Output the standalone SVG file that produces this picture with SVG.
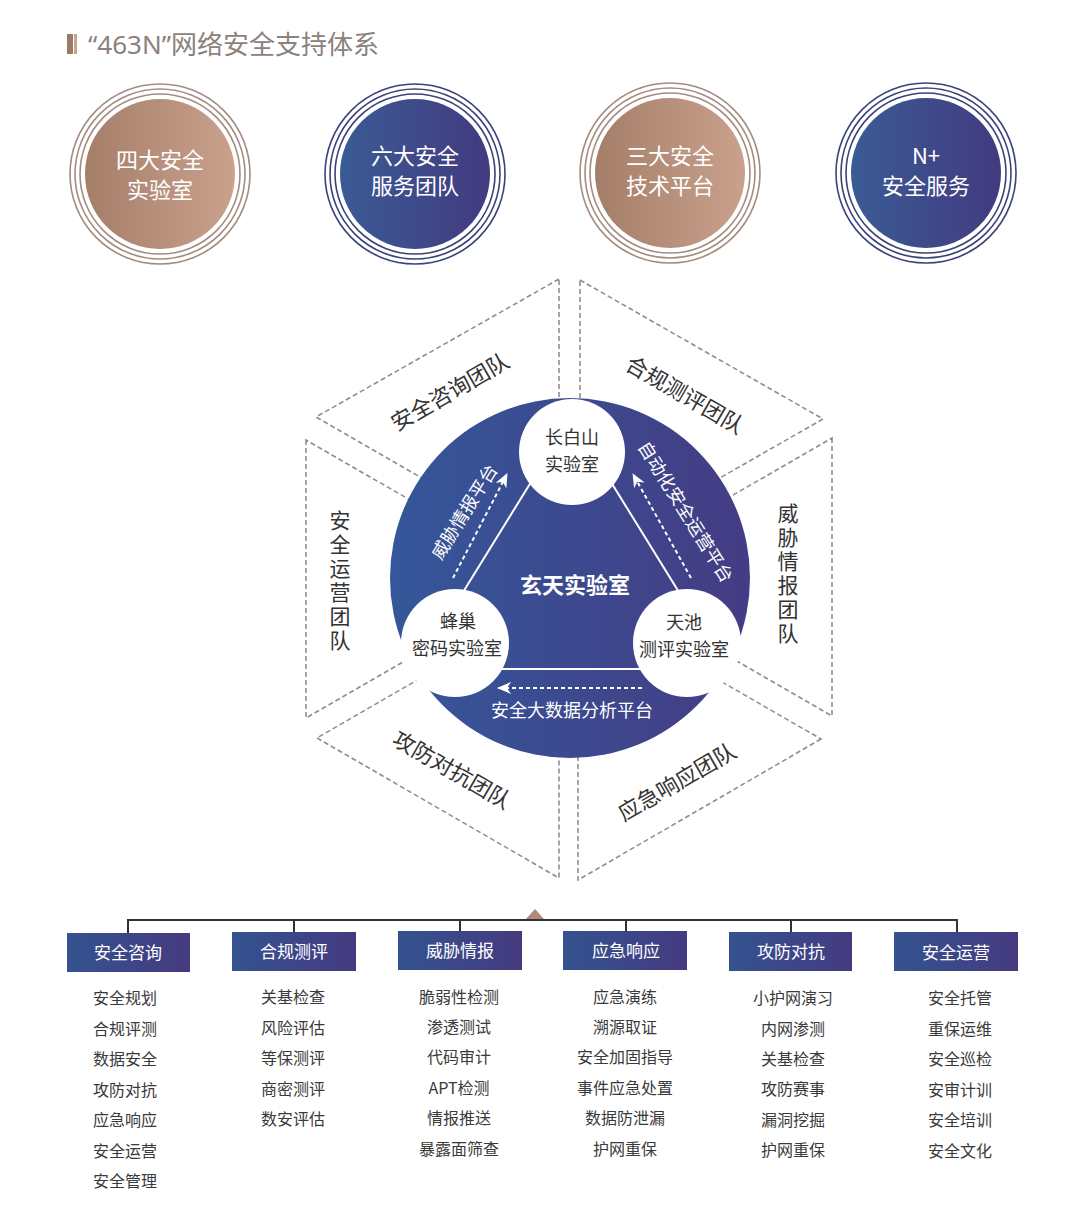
<svg xmlns="http://www.w3.org/2000/svg" width="1080" height="1206" viewBox="0 0 1080 1206">
<defs>
<linearGradient id="copper" x1="0" y1="0" x2="1" y2="0">
<stop offset="0" stop-color="#a57e6a"/><stop offset="1" stop-color="#c9a18c"/>
</linearGradient>
<linearGradient id="navy" x1="0" y1="0" x2="1" y2="0">
<stop offset="0" stop-color="#3a5b95"/><stop offset="1" stop-color="#433a80"/>
</linearGradient>
<linearGradient id="core" x1="0" y1="0" x2="1" y2="0">
<stop offset="0" stop-color="#35579a"/><stop offset="1" stop-color="#443c84"/>
</linearGradient>
<linearGradient id="box" x1="0" y1="0" x2="1" y2="0">
<stop offset="0" stop-color="#34538f"/><stop offset="1" stop-color="#453a80"/>
</linearGradient>
<marker id="ah" viewBox="0 0 14 12" refX="13" refY="6" markerWidth="14" markerHeight="12" markerUnits="userSpaceOnUse" orient="auto">
<path d="M14,6 L0,0 L4,6 L0,12 Z" fill="#ffffff"/>
</marker>
<style>
.f{font-family:"Noto Sans CJK SC","Noto Sans",sans-serif}
.wt{fill:#ffffff;text-anchor:middle}
.ct{font-size:22px}
.ringc{fill:none;stroke:#a48c80;stroke-width:1.6}
.ringn{fill:none;stroke:#3b4379;stroke-width:1.6}
.seg{fill:none;stroke:#8f8f8f;stroke-width:1.6;stroke-dasharray:5 3}
.seglbl{font-size:22px;fill:#333333;text-anchor:middle;dominant-baseline:central}
.vlbl{font-size:21px;fill:#333333;text-anchor:middle;writing-mode:vertical-rl;letter-spacing:3px}
.lab{font-size:18px;fill:#333333;text-anchor:middle}
.plat{font-size:18px;fill:#ffffff;text-anchor:middle;dominant-baseline:central}
.tri{stroke:#ffffff;stroke-width:2;fill:none}
.dash{stroke:#ffffff;stroke-width:2;stroke-dasharray:4 3;fill:none}
.tree{stroke:#333333;stroke-width:2;fill:none}
.bx{fill:url(#box)}
.bt{font-size:17px;fill:#ffffff;text-anchor:middle}
.it{font-size:16px;fill:#3a3a3a;text-anchor:middle}
</style>
</defs>
<rect width="1080" height="1206" fill="#ffffff"/>

<g id="title">
<rect x="67" y="34" width="6" height="20" fill="#9c7a68"/>
<rect x="74" y="34" width="3" height="20" fill="#c4a595"/>
<text x="88" y="54" font-size="26" fill="#8c817c" font-family="'Noto Sans','Noto Sans CJK SC',sans-serif">“463N”网络安全支持体系</text>
</g>

<g id="pillar-labs">
<circle cx="160" cy="174" r="90" class="ringc"/>
<circle cx="160" cy="174" r="85" class="ringc"/>
<circle cx="160" cy="174" r="80" class="ringc"/>
<circle cx="160" cy="174" r="75" fill="url(#copper)"/>
<text class="f wt ct" x="160" y="168">四大安全</text>
<text class="f wt ct" x="160" y="198">实验室</text>
</g>
<g id="pillar-teams">
<circle cx="415" cy="174" r="90" class="ringn"/>
<circle cx="415" cy="174" r="85" class="ringn"/>
<circle cx="415" cy="174" r="80" class="ringn"/>
<circle cx="415" cy="174" r="75" fill="url(#navy)"/>
<text class="f wt ct" x="415" y="164">六大安全</text>
<text class="f wt ct" x="415" y="194">服务团队</text>
</g>
<g id="pillar-platforms">
<circle cx="670" cy="173" r="90" class="ringc"/>
<circle cx="670" cy="173" r="85" class="ringc"/>
<circle cx="670" cy="173" r="80" class="ringc"/>
<circle cx="670" cy="173" r="75" fill="url(#copper)"/>
<text class="f wt ct" x="670" y="164">三大安全</text>
<text class="f wt ct" x="670" y="194">技术平台</text>
</g>
<g id="pillar-services">
<circle cx="926" cy="173" r="90" class="ringn"/>
<circle cx="926" cy="173" r="85" class="ringn"/>
<circle cx="926" cy="173" r="80" class="ringn"/>
<circle cx="926" cy="173" r="75" fill="url(#navy)"/>
<text class="f wt ct" x="926" y="164">N+</text>
<text class="f wt ct" x="926" y="194">安全服务</text>
</g>

<g id="seg-consult">
<polygon class="seg" points="559,279 316,417 559,557"/>
<text class="f seglbl" transform="translate(449,390) rotate(-30)">安全咨询团队</text>
</g>
<g id="seg-compliance">
<polygon class="seg" points="580,280 823,419 580,558"/>
<text class="f seglbl" transform="translate(686,393) rotate(30)">合规测评团队</text>
</g>
<g id="seg-ops">
<polygon class="seg" points="306,440 306,718 547,579"/>
<text class="f vlbl" x="340" y="582">安全运营团队</text>
</g>
<g id="seg-intel">
<polygon class="seg" points="832,438 832,716 591,577"/>
<text class="f vlbl" x="788" y="575">威胁情报团队</text>
</g>
<g id="seg-attack">
<polygon class="seg" points="317,738 559,878 559,598"/>
<text class="f seglbl" transform="translate(453,768) rotate(30)">攻防对抗团队</text>
</g>
<g id="seg-response">
<polygon class="seg" points="821,739 578,880 578,599"/>
<text class="f seglbl" transform="translate(676,780) rotate(-30)">应急响应团队</text>
</g>

<g id="xuantian">
<circle cx="570" cy="578" r="180" fill="url(#core)"/>
<text class="f" x="575" y="593" font-size="22" font-weight="bold" fill="#ffffff" text-anchor="middle">玄天实验室</text>
</g>

<g id="connectors">
<line class="tri" x1="549" y1="453" x2="452" y2="610"/>
<line class="tri" x1="593" y1="453" x2="690" y2="610"/>
<line class="tri" x1="470" y1="669" x2="672" y2="669"/>
<line class="dash" x1="453" y1="578" x2="507" y2="474" marker-end="url(#ah)"/>
<line class="dash" x1="691" y1="578" x2="633" y2="474" marker-end="url(#ah)"/>
<line class="dash" x1="642" y1="688" x2="498" y2="688" marker-end="url(#ah)"/>
<polyline class="tree" points="128,933 128,920 957,920 957,933"/>
<line class="tree" x1="294" y1="920" x2="294" y2="933"/>
<line class="tree" x1="460" y1="920" x2="460" y2="933"/>
<line class="tree" x1="626" y1="920" x2="626" y2="933"/>
<line class="tree" x1="791" y1="920" x2="791" y2="933"/>
<polygon points="526,919 535,909 544,919" fill="#b08b7a"/>
</g>

<g id="platform-labels">
<text class="f plat" transform="translate(463,511) rotate(-58)">威胁情报平台</text>
<text class="f plat" transform="translate(687,511) rotate(58)">自动化安全运营平台</text>
<text class="f" x="572" y="717" font-size="18" fill="#ffffff" text-anchor="middle">安全大数据分析平台</text>
</g>

<g id="lab-changbaishan">
<circle cx="572" cy="452" r="53" fill="#ffffff"/>
<text class="f lab" x="572" y="444">长白山</text>
<text class="f lab" x="572" y="471">实验室</text>
</g>
<g id="lab-fengchao">
<circle cx="455" cy="643" r="54" fill="#ffffff"/>
<text class="f lab" x="458" y="628">蜂巢</text>
<text class="f lab" x="457" y="655">密码实验室</text>
</g>
<g id="lab-tianchi">
<circle cx="687" cy="643" r="54" fill="#ffffff"/>
<text class="f lab" x="684" y="629">天池</text>
<text class="f lab" x="684" y="656">测评实验室</text>
</g>

<g id="col-consult">
<rect class="bx" x="67" y="933" width="123" height="39"/>
<text class="f bt" x="128" y="959">安全咨询</text>
<text class="f it" x="125" y="1004">安全规划</text>
<text class="f it" x="125" y="1035">合规评测</text>
<text class="f it" x="125" y="1065">数据安全</text>
<text class="f it" x="125" y="1096">攻防对抗</text>
<text class="f it" x="125" y="1126">应急响应</text>
<text class="f it" x="125" y="1157">安全运营</text>
<text class="f it" x="125" y="1187">安全管理</text>
</g>
<g id="col-compliance">
<rect class="bx" x="232" y="932" width="124" height="39"/>
<text class="f bt" x="294" y="958">合规测评</text>
<text class="f it" x="293" y="1003">关基检查</text>
<text class="f it" x="293" y="1034">风险评估</text>
<text class="f it" x="293" y="1064">等保测评</text>
<text class="f it" x="293" y="1095">商密测评</text>
<text class="f it" x="293" y="1125">数安评估</text>
</g>
<g id="col-intel">
<rect class="bx" x="398" y="931" width="124" height="39"/>
<text class="f bt" x="460" y="957">威胁情报</text>
<text class="f it" x="459" y="1003">脆弱性检测</text>
<text class="f it" x="459" y="1033">渗透测试</text>
<text class="f it" x="459" y="1063">代码审计</text>
<text class="f it" x="459" y="1094">APT检测</text>
<text class="f it" x="459" y="1124">情报推送</text>
<text class="f it" x="459" y="1155">暴露面筛查</text>
</g>
<g id="col-response">
<rect class="bx" x="563" y="931" width="124" height="39"/>
<text class="f bt" x="626" y="957">应急响应</text>
<text class="f it" x="625" y="1003">应急演练</text>
<text class="f it" x="625" y="1033">溯源取证</text>
<text class="f it" x="625" y="1063">安全加固指导</text>
<text class="f it" x="625" y="1094">事件应急处置</text>
<text class="f it" x="625" y="1124">数据防泄漏</text>
<text class="f it" x="625" y="1155">护网重保</text>
</g>
<g id="col-attack">
<rect class="bx" x="729" y="932" width="123" height="39"/>
<text class="f bt" x="791" y="958">攻防对抗</text>
<text class="f it" x="793" y="1004">小护网演习</text>
<text class="f it" x="793" y="1035">内网渗测</text>
<text class="f it" x="793" y="1065">关基检查</text>
<text class="f it" x="793" y="1095">攻防赛事</text>
<text class="f it" x="793" y="1126">漏洞挖掘</text>
<text class="f it" x="793" y="1156">护网重保</text>
</g>
<g id="col-ops">
<rect class="bx" x="894" y="932" width="124" height="39"/>
<text class="f bt" x="956" y="959">安全运营</text>
<text class="f it" x="960" y="1004">安全托管</text>
<text class="f it" x="960" y="1035">重保运维</text>
<text class="f it" x="960" y="1065">安全巡检</text>
<text class="f it" x="960" y="1096">安审计训</text>
<text class="f it" x="960" y="1126">安全培训</text>
<text class="f it" x="960" y="1157">安全文化</text>
</g>
</svg>
